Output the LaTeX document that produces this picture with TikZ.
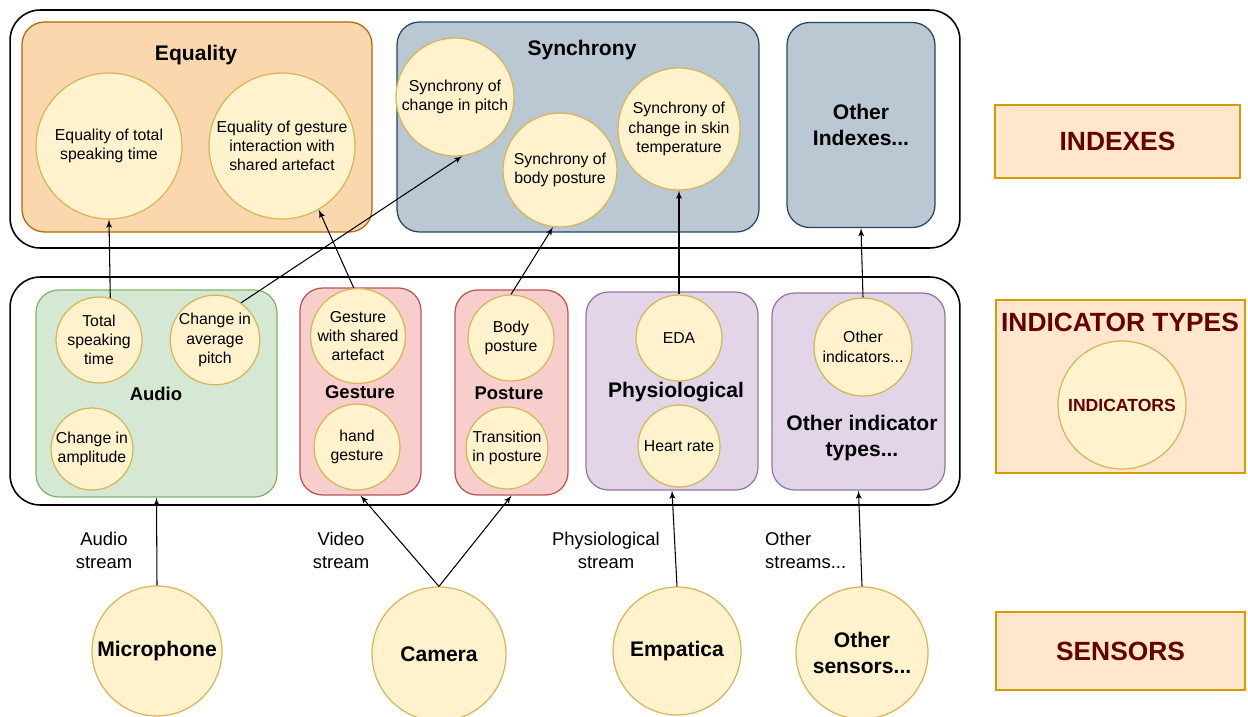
\documentclass[tikz,border=0pt]{standalone}
\usepackage{fontspec}
\setmainfont{Liberation Sans}
\usepackage{tikz}
\usetikzlibrary{shapes, arrows}
\definecolor{eqfill}{HTML}{FAD7AC}
\definecolor{eqdraw}{HTML}{B46504}
\definecolor{syfill}{HTML}{BAC8D3}
\definecolor{sydraw}{HTML}{23445D}
\definecolor{aufill}{HTML}{D5E8D4}
\definecolor{audraw}{HTML}{82B366}
\definecolor{gefill}{HTML}{F8CECC}
\definecolor{gedraw}{HTML}{B85450}
\definecolor{phfill}{HTML}{E1D5E7}
\definecolor{phdraw}{HTML}{9673A6}
\definecolor{infill}{HTML}{FFF2CC}
\definecolor{indraw}{HTML}{D6B656}
\definecolor{lgfill}{HTML}{FFE6CC}
\definecolor{lgdraw}{HTML}{D79B00}
\definecolor{lgtext}{HTML}{660000}
\tikzstyle{frame} = [rectangle, draw=black, line width=0.9pt, rounded corners=0.6cm]
\tikzstyle{group} = [rectangle, line width=0.7pt, rounded corners=0.45cm]
\tikzstyle{eqgroup} = [group, fill=eqfill, draw=eqdraw]
\tikzstyle{sygroup} = [group, fill=syfill, draw=sydraw]
\tikzstyle{augroup} = [group, fill=aufill, draw=audraw]
\tikzstyle{gegroup} = [group, fill=gefill, draw=gedraw]
\tikzstyle{phgroup} = [group, fill=phfill, draw=phdraw]
\tikzstyle{ind} = [circle, draw=indraw, fill=infill, line width=0.7pt, inner sep=0pt,
align=center, font=\fontsize{9}{11}\selectfont]
\tikzstyle{sensor} = [ind, font=\fontsize{12}{14.5}\selectfont\bfseries]
\tikzstyle{title} = [align=center, font=\fontsize{12}{14.5}\selectfont\bfseries]
\tikzstyle{subtitle} = [align=center, font=\fontsize{10.5}{12.5}\selectfont\bfseries]
\tikzstyle{stream} = [align=center, font=\fontsize{10.5}{13}\selectfont]
\tikzstyle{legend} = [rectangle, draw=lgdraw, fill=lgfill, line width=0.9pt, text=lgtext,
font=\fontsize{15}{18}\selectfont\bfseries]
\tikzstyle{line} = [draw, -latex', line width=0.6pt]

\begin{document}
\begin{tikzpicture}[x=0.02cm, y=-0.02cm]
	\useasboundingbox (0,0) rectangle (1248,717);
	
	% Place frames and groups
	\node [frame, minimum width=19cm, minimum height=4.76cm] (Indexes) at (485,129) {};
	\node [frame, minimum width=19cm, minimum height=4.56cm] (Types) at (485,391) {};
	\node [eqgroup, minimum width=7cm, minimum height=4.2cm] (Equality) at (197,127) {};
	\node [sygroup, minimum width=7.24cm, minimum height=4.2cm] (Synchrony) at (578,127) {};
	\node [sygroup, minimum width=2.96cm, minimum height=4.1cm] (Other Indexes) at (861,125) {};
	\node [augroup, minimum width=4.82cm, minimum height=4.14cm] (Audio) at (156.5,393.5) {};
	\node [gegroup, minimum width=2.42cm, minimum height=4.14cm] (Gesture) at (360.5,391.5) {};
	\node [gegroup, minimum width=2.26cm, minimum height=4.1cm] (Posture) at (511.5,392.5) {};
	\node [phgroup, minimum width=3.44cm, minimum height=3.96cm] (Physiological) at (672,391) {};
	\node [phgroup, minimum width=3.46cm, minimum height=3.94cm] (Other Types) at (858.5,391.5) {};
	
	% Group titles
	\node [title] (Equality Title) at (196,55) {Equality};
	\node [title] (Synchrony Title) at (582,50) {Synchrony};
	\node [title] (Other Indexes Title) at (861,125) {Other\\Indexes...};
	\node [subtitle] (Audio Title) at (156,394) {Audio};
	\node [subtitle] (Gesture Title) at (360,392) {Gesture};
	\node [subtitle] (Posture Title) at (509,393) {Posture};
	\node [title] (Physiological Title) at (676,392) {Physiological};
	\node [title] (Other Types Title) at (862,438) {Other indicator\\types...};
	
	% Index circles
	\node [ind, minimum size=2.92cm] (Eq TST) at (109,146) {Equality of total\\speaking time};
	\node [ind, minimum size=2.92cm] (Eq Gesture) at (282,146) {Equality of gesture\\interaction with\\shared artefact};
	\node [ind, minimum size=2.36cm] (Sy Pitch) at (455,97) {Synchrony of\\change in pitch};
	\node [ind, minimum size=2.28cm] (Sy Posture) at (560,170) {Synchrony of\\body posture};
	\node [ind, minimum size=2.44cm] (Sy Skin) at (679,129) {Synchrony of\\change in skin\\temperature};
	
	% Indicator circles
	\node [ind, minimum size=1.72cm] (TST) at (99,340) {Total\\speaking\\time};
	\node [ind, minimum size=1.76cm] (Pitch) at (215,340) {Change in\\average\\pitch};
	\node [ind, minimum size=1.64cm] (Amplitude) at (92,449) {Change in\\amplitude};
	\node [ind, minimum size=1.76cm] (Shared) at (358,336) {Gesture\\with shared\\artefact};
	\node [ind, minimum size=1.72cm] (Hand) at (357,447) {hand\\gesture};
	\node [ind, minimum size=1.72cm] (Body) at (511,338) {Body\\posture};
	\node [ind, minimum size=1.64cm] (Transition) at (507,448) {Transition\\in posture};
	\node [ind, minimum size=1.72cm] (EDA) at (679,338) {EDA};
	\node [ind, minimum size=1.64cm] (Heart) at (679,446) {Heart rate};
	\node [ind, minimum size=1.96cm] (Other Ind) at (863,347) {Other\\indicators...};
	
	% Sensors
	\node [sensor, minimum size=2.6cm] (Microphone) at (157,651) {Microphone};
	\node [sensor, minimum size=2.68cm] (Camera) at (439,654) {Camera};
	\node [sensor, minimum size=2.56cm] (Empatica) at (677,651) {Empatica};
	\node [sensor, minimum size=2.64cm] (Other Sensors) at (862,653) {Other\\sensors...};
	
	% Stream labels
	\node [stream] (Audio Stream) at (104,550) {Audio\\stream};
	\node [stream] (Video Stream) at (341,550) {Video\\stream};
	\node [stream] (Physio Stream) at (606,550) {Physiological\\stream};
	\node [stream, align=left, anchor=west] (Other Streams) at (759,550) {Other\\streams...};
	
	% Legend
	\node [legend, minimum width=4.9cm, minimum height=1.46cm] (Legend Indexes) at (1117.5,141.5) {INDEXES};
	\node [legend, minimum width=4.98cm, minimum height=3.46cm] (Legend Types) at (1120.5,386.5) {};
	\node [text=lgtext, font=\fontsize{15}{18}\selectfont\bfseries] (Legend Types Title) at (1120,322) {INDICATOR TYPES};
	\node [ind, minimum size=2.56cm, text=lgtext, font=\fontsize{10}{12}\selectfont\bfseries] (Legend Ind) at (1122,405) {INDICATORS};
	\node [legend, minimum width=4.98cm, minimum height=1.56cm] (Legend Sensors) at (1120.5,651) {SENSORS};
	
	%Draw edges
	\path [line] (TST.75)           -- (Eq TST.south);
	\path [line] (Pitch.55)         -- (Sy Pitch.277);
	\path [line] (Shared.95)        -- (Eq Gesture.300);
	\path [line] (Body.north)       -- (Sy Posture.263);
	\path [line] (EDA.north)        -- (Sy Skin.south);
	\path [line] (Other Ind.north)  -- (Other Indexes.south);
	\path [line] (Microphone.north) -- (Audio.south);
	\path [line] (Camera.north)     -- (Gesture.south);
	\path [line] (Camera.north)     -- (Posture.south);
	\path [line] (Empatica.north)   -- (Physiological.south);
	\path [line] (Other Sensors.north) -- (Other Types.south);
	
\end{tikzpicture}
\end{document}
